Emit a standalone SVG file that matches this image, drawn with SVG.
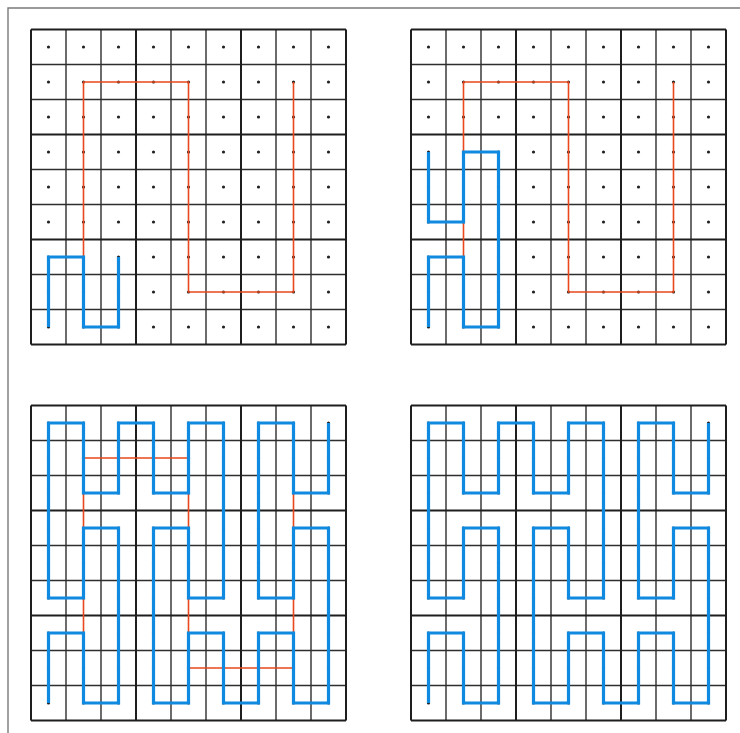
<svg xmlns="http://www.w3.org/2000/svg" xmlns:xlink="http://www.w3.org/1999/xlink" width="740" height="733" viewBox="0 0 740 733">
<style>
.frame{stroke:#7a7a7a;stroke-width:1.4;fill:none}
.thin{stroke:#2e2e2e;stroke-width:1.4;fill:none}
.thick{stroke:#1e1e1e;stroke-width:2;fill:none}
.dot{fill:#222}
.red{stroke:#e8481c;stroke-width:1.6;fill:none;stroke-linejoin:miter}
.blue{stroke:#0f8ae0;stroke-width:3.2;fill:none;stroke-linejoin:miter;stroke-linecap:butt}
</style>
<defs>
<g id="grid">
<path class="thin" d="M35 0V315M70 0V315M140 0V315M175 0V315M245 0V315M280 0V315M0 35H315M0 70H315M0 140H315M0 175H315M0 245H315M0 280H315"/>
<path class="thick" d="M0 0V315M105 0V315M210 0V315M315 0V315M0 0H315M0 105H315M0 210H315M0 315H315"/>
</g>
<g id="dotrow">
<circle class="dot" cx="17.5" cy="0" r="1.6"/><circle class="dot" cx="52.5" cy="0" r="1.6"/><circle class="dot" cx="87.5" cy="0" r="1.6"/><circle class="dot" cx="122.5" cy="0" r="1.6"/><circle class="dot" cx="157.5" cy="0" r="1.6"/><circle class="dot" cx="192.5" cy="0" r="1.6"/><circle class="dot" cx="227.5" cy="0" r="1.6"/><circle class="dot" cx="262.5" cy="0" r="1.6"/><circle class="dot" cx="297.5" cy="0" r="1.6"/>
</g>
<g id="dots">
<use xlink:href="#dotrow" y="17.5"/><use xlink:href="#dotrow" y="52.5"/><use xlink:href="#dotrow" y="87.5"/><use xlink:href="#dotrow" y="122.5"/><use xlink:href="#dotrow" y="157.5"/><use xlink:href="#dotrow" y="192.5"/><use xlink:href="#dotrow" y="227.5"/><use xlink:href="#dotrow" y="262.5"/><use xlink:href="#dotrow" y="297.5"/>
</g>
<polyline id="order1" class="red" points="52.5,262.5 52.5,52.5 157.5,52.5 157.5,262.5 262.5,262.5 262.5,52.5"/>
<polyline id="full" class="blue" points="17.5,297.5 17.5,227.5 52.5,227.5 52.5,297.5 87.5,297.5 87.5,227.5 87.5,122.5 52.5,122.5 52.5,192.5 17.5,192.5 17.5,122.5 17.5,17.5 52.5,17.5 52.5,87.5 87.5,87.5 87.5,17.5 122.5,17.5 122.5,87.5 157.5,87.5 157.5,17.5 192.5,17.5 192.5,192.5 157.5,192.5 157.5,122.5 122.5,122.5 122.5,297.5 157.5,297.5 157.5,227.5 192.5,227.5 192.5,297.5 227.5,297.5 227.5,227.5 262.5,227.5 262.5,297.5 297.5,297.5 297.5,122.5 262.5,122.5 262.5,192.5 227.5,192.5 227.5,122.5 227.5,17.5 262.5,17.5 262.5,87.5 297.5,87.5 297.5,17.5"/>
</defs>
<path class="frame" d="M8 733V8H740"/>
<g id="panel-top-left" transform="translate(31,29.5)">
<use xlink:href="#grid"/>
<use xlink:href="#dots"/>
<use xlink:href="#order1"/>
<polyline class="blue" points="17.5,297.5 17.5,227.5 52.5,227.5 52.5,297.5 87.5,297.5 87.5,227.5"/>
</g>
<g id="panel-top-right" transform="translate(411,29.5)">
<use xlink:href="#grid"/>
<use xlink:href="#dots"/>
<use xlink:href="#order1"/>
<polyline class="blue" points="17.5,297.5 17.5,227.5 52.5,227.5 52.5,297.5 87.5,297.5 87.5,227.5 87.5,122.5 52.5,122.5 52.5,192.5 17.5,192.5 17.5,122.5"/>
</g>
<g id="panel-bottom-left" transform="translate(31,405.5)">
<use xlink:href="#grid"/>
<use xlink:href="#dots"/>
<use xlink:href="#order1"/>
<use xlink:href="#full"/>
</g>
<g id="panel-bottom-right" transform="translate(411,405.5)">
<use xlink:href="#grid"/>
<use xlink:href="#dots"/>
<use xlink:href="#full"/>
</g>
</svg>
